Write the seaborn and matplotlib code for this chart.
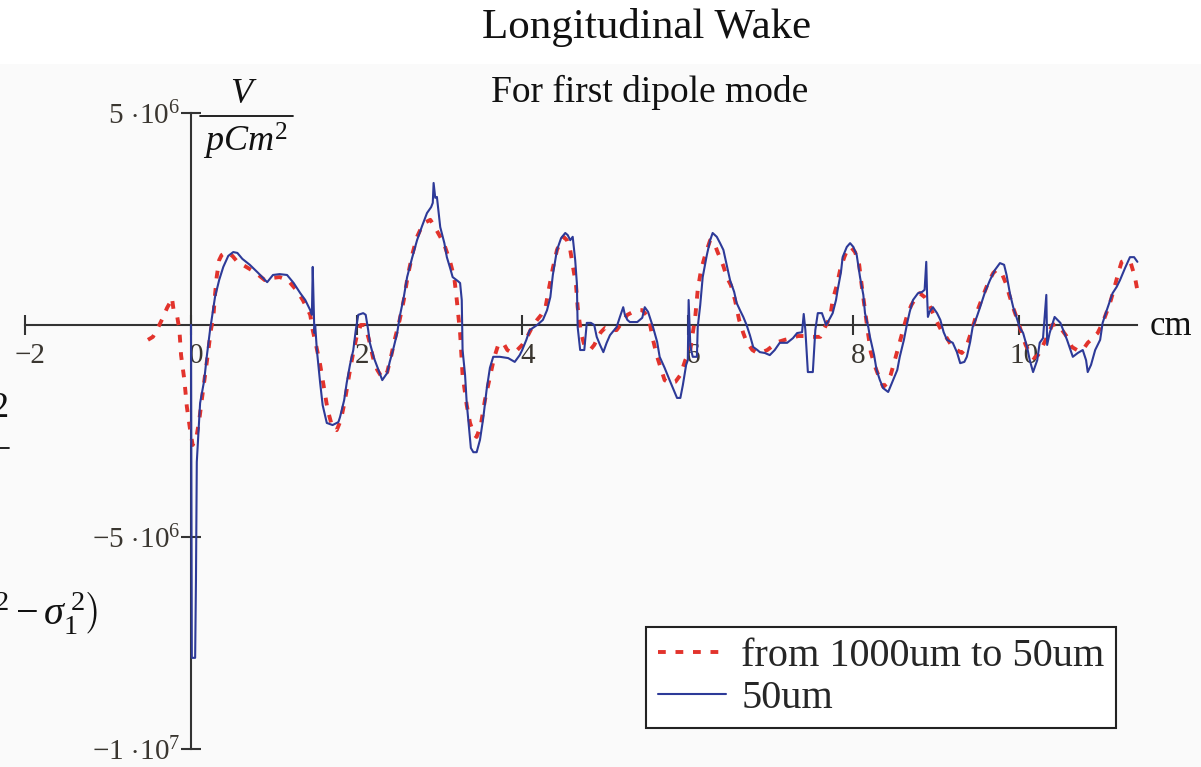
import matplotlib
matplotlib.use("Agg")
import matplotlib.pyplot as plt
import seaborn as sns
from matplotlib.lines import Line2D
from matplotlib.patches import Rectangle

# Longitudinal wake for the first dipole mode, in units of 1e6 V/(pC m^2)
# position along the bunch in cm

# tapered bunch: from 1000um down to 50um
pos_taper = [-0.52, -0.46, -0.40, -0.34, -0.29, -0.25, -0.23, -0.21, -0.17, -0.14,
             -0.12, -0.08, -0.05, -0.01, 0.02, 0.06, 0.10, 0.13, 0.17, 0.21,
             0.24, 0.27, 0.29, 0.31, 0.34, 0.37, 0.43, 0.50, 0.56, 0.65,
             0.77, 0.89, 0.98, 1.07, 1.17, 1.27, 1.35, 1.44, 1.47, 1.51,
             1.56, 1.61, 1.65, 1.70, 1.76, 1.81, 1.86, 1.91, 1.96, 2.00,
             2.05, 2.10, 2.15, 2.20, 2.25, 2.31, 2.37, 2.42, 2.46, 2.52,
             2.57, 2.62, 2.68, 2.73, 2.78, 2.84, 2.89, 2.93, 3.01, 3.06,
             3.09, 3.13, 3.18, 3.21, 3.25, 3.28, 3.33, 3.37, 3.42, 3.45,
             3.50, 3.55, 3.61, 3.66, 3.71, 3.77, 3.82, 3.88, 3.94, 4.00,
             4.06, 4.12, 4.18, 4.23, 4.28, 4.32, 4.37, 4.42, 4.47, 4.50,
             4.54, 4.58, 4.61, 4.65, 4.67, 4.71, 4.75, 4.82, 4.87, 4.90,
             4.95, 5.00, 5.06, 5.14, 5.21, 5.27, 5.34, 5.40, 5.45, 5.50,
             5.54, 5.58, 5.63, 5.68, 5.72, 5.78, 5.85, 5.91, 5.97, 6.03,
             6.06, 6.09, 6.12, 6.16, 6.21, 6.27, 6.32, 6.36, 6.43, 6.47,
             6.52, 6.57, 6.62, 6.67, 6.71, 6.78, 6.84, 6.90, 6.96, 7.02,
             7.09, 7.17, 7.26, 7.33, 7.42, 7.50, 7.60, 7.67, 7.72, 7.75,
             7.80, 7.84, 7.89, 7.93, 7.97, 8.02, 8.07, 8.10, 8.14, 8.18,
             8.21, 8.26, 8.31, 8.36, 8.41, 8.45, 8.50, 8.55, 8.60, 8.65,
             8.70, 8.76, 8.80, 8.86, 8.91, 8.96, 9.01, 9.06, 9.12, 9.18,
             9.25, 9.31, 9.36, 9.41, 9.46, 9.50, 9.57, 9.63, 9.69, 9.73,
             9.79, 9.84, 9.89, 9.94, 9.99, 10.04, 10.08, 10.13, 10.18, 10.23,
             10.28, 10.34, 10.40, 10.46, 10.52, 10.58, 10.64, 10.70, 10.77, 10.83,
             10.89, 10.95, 11.01, 11.06, 11.11, 11.16, 11.21, 11.24, 11.29, 11.35,
             11.40, 11.44]
wake_taper = [-0.35, -0.28, -0.07, 0.17, 0.40, 0.54, 0.64, 0.35, 0.24, -0.12,
              -0.71, -1.30, -1.93, -2.48, -2.83, -2.71, -2.24, -1.77, -1.18, -0.59,
              -0.12, 0.19, 0.71, 1.13, 1.53, 1.65, 1.72, 1.63, 1.49, 1.39,
              1.25, 1.06, 1.11, 1.13, 1.06, 0.83, 0.59, 0.24, -0.12, -0.47,
              -0.94, -1.53, -2.00, -2.36, -2.48, -2.24, -1.77, -1.18, -0.64, -0.28,
              0.00, 0.00, -0.35, -0.78, -1.06, -1.25, -1.11, -0.71, -0.35, 0.12,
              0.59, 1.18, 1.72, 2.08, 2.29, 2.43, 2.48, 2.36, 2.08, 1.89,
              1.72, 1.49, 1.11, 0.59, -0.19, -1.18, -1.89, -2.31, -2.59, -2.64,
              -2.36, -1.77, -1.23, -0.78, -0.47, -0.42, -0.59, -0.66, -0.59, -0.47,
              -0.28, -0.05, 0.12, 0.24, 0.40, 0.83, 1.34, 1.77, 2.00, 2.08,
              2.00, 1.77, 1.42, 0.94, 0.42, -0.19, -0.47, -0.59, -0.47, -0.35,
              -0.17, -0.07, -0.12, -0.12, 0.07, 0.24, 0.31, 0.35, 0.35, 0.24,
              0.05, -0.35, -0.75, -1.06, -1.30, -1.37, -1.34, -1.18, -0.83, -0.59,
              -0.19, 0.19, 0.83, 1.30, 1.65, 2.00, 1.93, 1.72, 1.39, 1.13,
              0.94, 0.59, 0.12, -0.19, -0.40, -0.59, -0.66, -0.64, -0.59, -0.50,
              -0.40, -0.35, -0.31, -0.26, -0.26, -0.28, -0.28, 0.00, 0.19, 0.59,
              0.94, 1.30, 1.60, 1.79, 1.84, 1.72, 1.42, 0.94, 0.35, -0.24,
              -0.64, -0.97, -1.23, -1.46, -1.37, -1.18, -0.83, -0.47, -0.12, 0.24,
              0.47, 0.66, 0.75, 0.66, 0.52, 0.28, 0.07, -0.12, -0.28, -0.47,
              -0.59, -0.66, -0.54, -0.24, 0.07, 0.35, 0.71, 1.01, 1.23, 1.30,
              1.23, 0.99, 0.66, 0.35, 0.07, -0.24, -0.47, -0.66, -0.78, -0.71,
              -0.52, -0.28, 0.00, 0.02, -0.12, -0.28, -0.52, -0.59, -0.59, -0.42,
              -0.31, -0.19, 0.05, 0.31, 0.59, 0.94, 1.30, 1.49, 1.53, 1.46,
              1.13, 0.71]

# constant 50um bunch
pos_50um = [0.00, 0.01, 0.05, 0.06, 0.07, 0.11, 0.16, 0.19, 0.23, 0.29,
            0.34, 0.39, 0.45, 0.51, 0.56, 0.62, 0.71, 0.81, 0.92, 0.99,
            1.07, 1.16, 1.24, 1.32, 1.38, 1.44, 1.46, 1.47, 1.49, 1.50,
            1.52, 1.56, 1.59, 1.64, 1.71, 1.78, 1.80, 1.85, 1.88, 1.92,
            1.96, 1.99, 2.02, 2.08, 2.11, 2.14, 2.16, 2.21, 2.25, 2.31,
            2.37, 2.40, 2.44, 2.49, 2.52, 2.57, 2.61, 2.67, 2.73, 2.79,
            2.85, 2.90, 2.92, 2.93, 2.95, 2.97, 3.01, 3.06, 3.09, 3.13,
            3.16, 3.22, 3.25, 3.27, 3.28, 3.31, 3.33, 3.36, 3.38, 3.41,
            3.45, 3.49, 3.53, 3.57, 3.61, 3.65, 3.73, 3.83, 3.91, 3.97,
            4.00, 4.05, 4.09, 4.18, 4.25, 4.30, 4.34, 4.37, 4.42, 4.47,
            4.52, 4.55, 4.58, 4.61, 4.64, 4.66, 4.67, 4.70, 4.75, 4.78,
            4.83, 4.87, 4.90, 4.94, 4.98, 5.02, 5.06, 5.11, 5.14, 5.18,
            5.22, 5.24, 5.27, 5.30, 5.39, 5.45, 5.48, 5.52, 5.54, 5.58,
            5.63, 5.66, 5.72, 5.78, 5.83, 5.87, 5.91, 5.94, 5.98, 6.00,
            6.01, 6.03, 6.04, 6.06, 6.11, 6.12, 6.15, 6.18, 6.23, 6.27,
            6.30, 6.35, 6.39, 6.43, 6.47, 6.51, 6.56, 6.59, 6.63, 6.67,
            6.71, 6.75, 6.79, 6.84, 6.87, 6.93, 6.99, 7.05, 7.11, 7.20,
            7.27, 7.32, 7.38, 7.40, 7.42, 7.45, 7.51, 7.54, 7.57, 7.62,
            7.67, 7.72, 7.75, 7.79, 7.81, 7.85, 7.87, 7.92, 7.96, 8.00,
            8.04, 8.08, 8.12, 8.14, 8.18, 8.20, 8.25, 8.28, 8.32, 8.36,
            8.42, 8.48, 8.53, 8.56, 8.61, 8.65, 8.68, 8.72, 8.78, 8.83,
            8.86, 8.88, 8.89, 8.90, 8.92, 8.96, 9.01, 9.05, 9.09, 9.13,
            9.20, 9.25, 9.29, 9.34, 9.37, 9.41, 9.44, 9.49, 9.53, 9.59,
            9.65, 9.71, 9.77, 9.82, 9.85, 9.89, 9.93, 9.98, 10.01, 10.05,
            10.10, 10.13, 10.17, 10.22, 10.25, 10.29, 10.33, 10.34, 10.37, 10.43,
            10.50, 10.58, 10.65, 10.71, 10.77, 10.81, 10.83, 10.87, 10.92, 10.98,
            11.01, 11.06, 11.13, 11.18, 11.22, 11.28, 11.34, 11.39, 11.43]
wake_50um = [0.00, -7.85, -7.85, -6.01, -3.23, -1.84, -1.30, -0.75, -0.12, 0.66,
             1.06, 1.37, 1.63, 1.72, 1.70, 1.56, 1.42, 1.23, 1.01, 1.18,
             1.20, 1.18, 0.99, 0.75, 0.59, 0.35, 0.24, 1.37, -0.19, 0.00,
             -0.59, -1.37, -1.89, -2.31, -2.36, -2.29, -2.17, -1.77, -1.37, -0.94,
             -0.59, -0.12, 0.24, 0.28, 0.24, -0.12, -0.42, -0.78, -0.99, -1.30,
             -1.13, -0.87, -0.59, -0.19, 0.19, 0.66, 1.13, 1.58, 2.00, 2.33,
             2.64, 2.78, 2.88, 3.35, 3.00, 3.02, 2.31, 1.93, 1.60, 1.34,
             1.13, 1.04, 0.99, 0.59, -0.59, -1.18, -1.84, -2.48, -2.90, -3.00,
             -3.00, -2.71, -2.19, -1.53, -1.01, -0.75, -0.75, -0.78, -0.87, -0.71,
             -0.59, -0.35, -0.12, 0.00, 0.12, 0.35, 0.66, 1.18, 1.77, 2.05,
             2.17, 2.12, 2.00, 2.08, 1.53, 0.99, -0.05, -0.59, -0.59, 0.05,
             0.05, 0.00, -0.28, -0.47, -0.64, -0.42, -0.24, -0.12, -0.05, 0.19,
             0.42, 0.24, 0.12, 0.07, 0.07, 0.17, 0.42, 0.31, 0.19, -0.05,
             -0.40, -0.75, -1.01, -1.30, -1.53, -1.72, -1.72, -1.42, -0.94, -0.83,
             0.59, -0.47, -0.59, -0.75, -0.75, -0.05, 0.47, 1.13, 1.65, 2.00,
             2.17, 2.08, 1.93, 1.77, 1.42, 1.06, 0.78, 0.52, 0.35, 0.19,
             0.00, -0.24, -0.52, -0.59, -0.64, -0.66, -0.71, -0.59, -0.42, -0.42,
             -0.31, -0.19, -0.17, 0.26, -0.12, -1.11, -1.11, -0.12, 0.28, 0.28,
             0.00, 0.17, 0.28, 0.59, 0.83, 1.25, 1.60, 1.84, 1.93, 1.84,
             1.65, 1.13, 0.71, 0.28, -0.05, -0.28, -0.71, -1.06, -1.30, -1.49,
             -1.58, -1.30, -1.06, -0.75, -0.35, 0.05, 0.31, 0.59, 0.75, 0.78,
             0.83, 1.49, 0.71, 0.19, 0.31, 0.42, 0.28, 0.12, -0.17, -0.35,
             -0.42, -0.64, -0.90, -0.87, -0.75, -0.40, -0.05, 0.19, 0.42, 0.78,
             1.06, 1.30, 1.46, 1.42, 1.18, 0.75, 0.42, 0.12, -0.07, -0.19,
             -0.54, -0.83, -1.11, -0.83, -0.42, -0.31, 0.71, -0.47, -0.19, 0.19,
             0.05, -0.35, -0.75, -0.66, -0.59, -0.83, -1.11, -0.94, -0.59, -0.35,
             0.05, 0.35, 0.75, 0.90, 1.06, 1.34, 1.60, 1.60, 1.49]

series_labels = ["from 1000um to 50um", "50um"]
xtick_vals = [-2, 0, 2, 4, 6, 8, 10]
xtick_labels = ["\u22122", "0", "2", "4", "6", "8", "10"]
ytick_vals = [5e6, -5e6, -1e7]
ytick_labels = [r"$5\,\cdot\!10^{6}$", r"$-5\,\cdot\!10^{6}$", r"$-1\,\cdot\!10^{7}$"]

sns.set_theme(style="white")
plt.rcParams["font.family"] = ["Liberation Serif", "DejaVu Serif"]
plt.rcParams["mathtext.fontset"] = "custom"
plt.rcParams["mathtext.rm"] = "Liberation Serif"
plt.rcParams["mathtext.it"] = "Liberation Serif:italic"
plt.rcParams["mathtext.bf"] = "Liberation Serif:bold"

W, H = 1201, 767
fig = plt.figure(figsize=(W / 100, H / 100), dpi=100)
fig.patch.set_facecolor("white")


def fx(px):
    return px / W


def fy(py):
    return 1 - py / H


# faint panel behind the plot region
fig.patches.append(Rectangle((0, 0), 1, fy(64), transform=fig.transFigure,
                             facecolor="#fafafa", edgecolor="none", zorder=-10))

ax = fig.add_axes([0, 0, 1, 1])
ax.set_facecolor("none")

red = "#e2332c"
blue = "#2d3a98"
axis_col = "#333333"
label_col = "#3a3630"

sns.lineplot(x=pos_taper, y=[v * 1e6 for v in wake_taper], ax=ax, color=red,
             lw=2.8, linestyle=(0, (2.0, 2.5)), solid_capstyle="butt",
             dash_capstyle="butt", sort=False, estimator=None,
             label=series_labels[0], zorder=3)
sns.lineplot(x=pos_50um, y=[v * 1e6 for v in wake_50um], ax=ax, color=blue,
             lw=1.5, sort=False, estimator=None, label=series_labels[1],
             zorder=4)

# axes crossing at the origin, Mathcad style
ax.set_xlim(-191 / 82.8, (W - 191) / 82.8)
ax.set_ylim((325 - H) / 42.4 * 1e6, 325 / 42.4 * 1e6)
for side in ("top", "right"):
    ax.spines[side].set_visible(False)
ax.spines["left"].set_position(("data", 0))
ax.spines["bottom"].set_position(("data", 0))
ax.spines["left"].set_bounds(-1e7, 5e6)
ax.spines["bottom"].set_bounds(-2, 11.43)
for side in ("left", "bottom"):
    ax.spines[side].set_color(axis_col)
    ax.spines[side].set_linewidth(1.5)
    ax.spines[side].set_zorder(2)

ax.set_xticks(xtick_vals)
ax.set_xticklabels([""] * len(xtick_vals))
ax.set_yticks(ytick_vals)
ax.set_yticklabels(ytick_labels)
ax.tick_params(axis="both", direction="inout", length=15, width=1.5,
               color=axis_col, bottom=True, left=True)
ax.tick_params(axis="y", pad=0.3, labelsize=21, labelcolor=label_col)
ax.grid(False)

for t, lab in zip(xtick_vals, xtick_labels):
    ax.annotate(lab, xy=(t, 0), xytext=(3.6, -27.4), textcoords="offset points",
                ha="center", va="baseline", fontsize=21, color=label_col,
                zorder=1)

leg = ax.legend(loc="lower right", bbox_to_anchor=(fx(1116), fy(728)),
                bbox_transform=fig.transFigure, prop={"size": 29},
                frameon=True, fancybox=False, framealpha=1, borderpad=0.28,
                handlelength=1.7, handletextpad=0.38, labelspacing=0.1,
                borderaxespad=0)
leg.get_frame().set_edgecolor("#222222")
leg.get_frame().set_linewidth(1.5)
leg.get_frame().set_facecolor("white")

# titles
fig.text(fx(647), fy(38), "Longitudinal Wake", ha="center", va="baseline",
         fontsize=31, color="#111111")
fig.text(fx(650), fy(102), "For first dipole mode", ha="center",
         va="baseline", fontsize=27, color="#111111")

# unit labels
fig.text(fx(244), fy(103), r"$V$", ha="center", va="baseline", fontsize=26,
         color="#111111")
fig.add_artist(Line2D([fx(200), fx(293)], [fy(116), fy(116)],
                      transform=fig.transFigure, color="#111111", lw=1.3))
fig.text(fx(246), fy(152), r"$pCm^{2}$", ha="center", va="baseline",
         fontsize=26, color="#111111")
fig.text(fx(1150), fy(335), "cm", ha="left", va="baseline", fontsize=25,
         color="#111111")

# neighbouring formula at the left margin
fig.text(fx(8), fy(417), "2", ha="right", va="baseline", fontsize=26,
         color="#111111")
fig.add_artist(Line2D([fx(0), fx(9)], [fy(448), fy(448)],
                      transform=fig.transFigure, color="#111111", lw=1.3))
fig.text(fx(98), fy(624),
         r"$\left(\sigma_2^{\;2}-\sigma_1^{\;2}\right)$",
         ha="right", va="baseline", fontsize=29, color="#111111")

fig.savefig("out.png", dpi=100)
